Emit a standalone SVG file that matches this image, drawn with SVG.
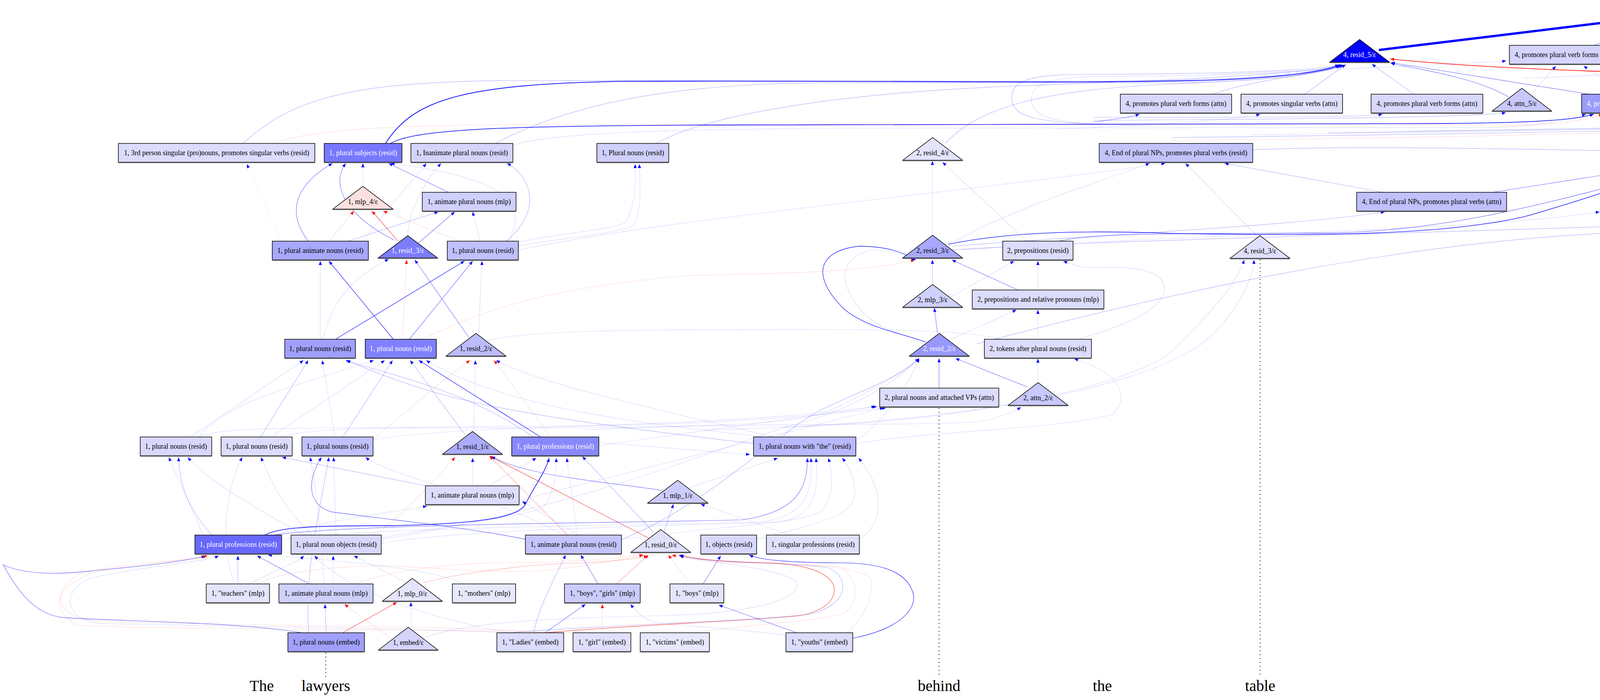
<svg xmlns="http://www.w3.org/2000/svg" width="5637" height="1791" viewBox="0 0 5637 1791">
<defs>
<marker id="ab" markerUnits="userSpaceOnUse" markerWidth="10" markerHeight="8" viewBox="0 0 10 8" refX="10" refY="4" orient="auto"><path d="M0,0 L10,4 L0,8 z" fill="#00f"/></marker>
<marker id="ar" markerUnits="userSpaceOnUse" markerWidth="10" markerHeight="8" viewBox="0 0 10 8" refX="10" refY="4" orient="auto"><path d="M0,0 L10,4 L0,8 z" fill="#f00"/></marker>
<marker id="abL" markerUnits="userSpaceOnUse" markerWidth="20" markerHeight="16" viewBox="0 0 20 16" refX="20" refY="8" orient="auto"><path d="M0,0 L20,8 L0,16 z" fill="#00f"/></marker>
</defs>
<style>
text{font-family:"Liberation Serif","Times New Roman",serif;font-size:18px;text-anchor:middle;dominant-baseline:central;fill:#000}
text.w{fill:#fff}
text.word{font-size:40px;dominant-baseline:auto}
.n rect,.n polygon,.n ellipse{stroke:#000;stroke-width:1.5}
.sh{stroke:#555;stroke-width:2.5}
.e path{fill:none;stroke-width:1.2}
.b1{stroke:#00f;stroke-opacity:.15;marker-end:url(#ab)}
.b2{stroke:#00f;stroke-opacity:.3;marker-end:url(#ab)}
.b3{stroke:#00f;stroke-opacity:.55;marker-end:url(#ab)}
.b4{stroke:#00f;stroke-opacity:.85;marker-end:url(#ab)}
.r1{stroke:#f00;stroke-opacity:.15;marker-end:url(#ar)}
.r2{stroke:#f00;stroke-opacity:.35;marker-end:url(#ar)}
.r3{stroke:#f00;stroke-opacity:.7;marker-end:url(#ar)}
.nm{marker-end:none}
.dot{stroke:#000;stroke-width:2;stroke-dasharray:2 8;fill:none}
</style>
<rect x="0" y="0" width="5637" height="1791" fill="#fff"/>

<g id="edges" class="e">
<!-- top -->
<path d="M3530,128 L4270,38" style="stroke:#00f;stroke-width:6;marker-end:url(#abL)"/>
<path d="M4530,116 L4332,42" class="b4" style="stroke-width:2.5"/>
<path d="M4820,116 L4337,36" class="b4" style="stroke-width:2"/>
<path d="M4080,116 L4276,42" class="b3"/>
<path d="M4887,248 C4820,205 4700,195 4400,190 C4100,185 3800,175 3559,151" class="r3" style="stroke-opacity:1;stroke-width:1.6"/>
<path d="M987,367 C1060,250 1200,215 1600,208 C2200,205 2800,215 3100,205 C3300,198 3400,180 3432,165" class="b4" style="stroke-width:2.2"/>
<path d="M1000,367 C1060,330 1300,322 1800,320 L3700,316 C3950,314 4040,305 4080,292" class="b4" style="stroke-width:1.8"/>
<path d="M4068,241 L3561,160" class="b3"/>
<path d="M3862,248 C3780,200 3650,180 3560,162" class="b3"/>
<path d="M3620,241 L3512,164" class="b2"/>
<path d="M3340,241 L3445,165" class="b2"/>
<path d="M3104,241 C3200,205 3380,190 3432,167" class="b2"/>
<path d="M622,367 C750,250 900,210 1300,206 L2800,208 C3200,205 3400,190 3430,166" class="b2"/>
<path d="M698,367 C800,330 1000,320 1400,318 L3900,320 C4000,318 4070,305 4103,292" class="r1"/>
<path d="M1268,367 C1450,270 1700,215 2100,212 L3000,212 C3250,208 3390,190 3436,166" class="b2"/>
<path d="M1313,372 C1400,340 1700,330 2200,328 L3800,326 C3950,324 4020,305 4060,292" class="b1"/>
<path d="M1679,367 C1800,300 2100,240 2600,220 C3000,205 3350,190 3438,166" class="b2"/>
<path d="M2420,367 C2500,280 2650,230 3000,215 C3250,205 3390,188 3440,166" class="b2"/>
<path d="M2900,318 C2650,318 2590,300 2590,250 C2590,200 2650,190 2800,190 C3100,190 3380,180 3428,166" class="b2"/>
<path d="M2950,322 C2700,322 2640,300 2640,255 C2640,210 2700,195 2850,195 C3100,195 3380,185 3430,168" class="b1"/>
<path d="M3207,383 C3500,370 4000,385 4413,390" class="b2 nm"/>
<path d="M2427,625 C2600,590 2800,590 3000,597 C3400,605 3700,600 3900,555 C4100,500 4300,420 4415,404" class="b4" style="stroke-width:1.6"/>
<path d="M2710,617 C2800,596 3000,598 3400,596 C3800,590 4100,470 4418,408" class="b3" style="stroke-width:1.3"/>
<path d="M3821,492 L4413,400" class="b3"/>
<path d="M3541,492 L3135,418" class="b2"/>
<path d="M3218,603 L3035,418" class="b1"/>
<path d="M2440,620 C2600,530 2800,470 2943,418" class="b1"/>
<path d="M1327,640 C1700,560 2400,500 2983,418" class="b1"/>
<path d="M4539,382 C4650,340 4800,300 4874,288" class="r2"/>
<path d="M3000,360 C3800,350 4500,340 4870,290" class="r1"/>
<path d="M4569,384 L5492,304 L5630,183 C5560,210 5470,215 5300,200 C5150,190 5060,175 5025,168" class="b2"/>
<path d="M3000,352 C4000,340 5000,320 5150,308 C5210,290 5215,240 5170,215 C5100,190 4800,180 4686,168" class="b2"/>
<path d="M3200,345 C4200,330 5050,318 5200,305 C5270,280 5270,230 5200,210 C5000,185 4800,175 4680,168" class="b1"/>
<path d="M3400,340 C4400,325 5200,312 5340,300 C5390,270 5380,230 5300,210 C5150,185 5060,175 5030,168" class="b2"/>
<path d="M3600,335 C4500,322 5280,305 5420,295 C5480,270 5460,220 5380,205 C5200,185 5060,172 5030,168" class="b1"/>
<path d="M4273,241 L4512,166" class="b1"/>
<path d="M4917,226 L4917,168" class="b1"/>
<path d="M4890,248 C4800,220 4700,190 4670,168" class="b1"/>
<path d="M3920,241 L3983,169" class="b1"/>
<path d="M4166,241 L4054,169" class="b1"/>
<path d="M3100,190 C3500,175 3800,160 3856,156" class="b1"/>
<path d="M3900,200 C4200,190 4400,170 4443,160" class="b1"/>
<path d="M2800,300 C3200,300 3500,300 3539,292" class="b2"/>
<path d="M2800,308 C3300,305 3800,300 3855,288" class="b2"/>
<path d="M2800,312 C2860,305 2900,298 2917,292" class="b3"/>
<path d="M2700,330 C3000,320 3200,300 3226,292" class="b1"/>
<path d="M2430,640 C2700,620 3500,600 4100,580 C4300,570 4420,560 4440,500 C4450,460 4447,430 4447,415" class="b2"/>
<path d="M2500,880 C2800,800 3500,620 4150,595 C4350,590 4470,560 4480,500 L4493,415" class="b2"/>
<path d="M2440,630 C2800,600 3300,580 3545,542" class="b2"/>
<path d="M2460,640 C3000,600 3800,590 4095,542" class="b1"/>
<!-- rows 367-665 -->
<path d="M789,617 C730,540 760,470 851,418" class="b3"/>
<path d="M1010,615 C900,560 840,480 885,418" class="b3"/>
<path d="M929,477 L929,418" class="b1"/>
<path d="M1148,492 L995,418" class="b3"/>
<path d="M1301,617 C1350,530 1310,455 1000,418" class="b1"/>
<path d="M1043,603 C1050,520 1100,450 1129,418" class="b1"/>
<path d="M930,617 C1000,520 1060,460 1091,418" class="b1"/>
<path d="M720,617 L632,420" class="b1" style="stroke-opacity:.06"/>
<path d="M1296,617 C1390,540 1360,450 1298,418" class="b2"/>
<path d="M842,617 L906,540" class="r1"/>
<path d="M1019,617 L952,540" class="r3"/>
<path d="M1177,617 L981,540" class="r1"/>
<path d="M890,617 L1122,542" class="b2"/>
<path d="M1071,622 L1164,542" class="b3"/>
<path d="M1229,617 L1210,542" class="b1"/>
<path d="M1320,622 C1400,600 1560,590 1600,570 C1630,520 1626,470 1626,420" class="b1"/>
<path d="M1325,630 C1420,610 1580,600 1625,575 C1645,520 1637,470 1637,420" class="b1"/>
<!-- rows 868 -> 617 -->
<path d="M820,868 L820,668" class="b1"/>
<path d="M828,868 C840,800 880,720 995,663" class="b1"/>
<path d="M859,868 L1189,668" class="b4" style="stroke-width:1.3"/>
<path d="M1007,868 L842,668" class="b4"/>
<path d="M1048,868 L1210,668" class="b3"/>
<path d="M1030,868 L1041,665" class="r1"/>
<path d="M1200,863 L1062,665" class="b3"/>
<path d="M1225,853 L1234,668" class="b1"/>
<path d="M1081,868 C1300,760 1500,730 1757,705 C1950,700 2200,700 2342,665" class="r1"/>
<path d="M1244,873 C1340,845 1600,843 2100,843 C2350,843 2500,850 2562,868" class="b1 nm"/>
<!-- rows 1118 -> 868 -->
<path d="M488,1118 L777,922" class="b1"/>
<path d="M507,1118 C600,1020 720,1000 957,922" class="b1"/>
<path d="M667,1118 L789,922" class="b2"/>
<path d="M694,1118 L985,922" class="b1"/>
<path d="M858,1118 L825,922" class="b1"/>
<path d="M878,1118 L1005,922" class="b2"/>
<path d="M955,1125 C1100,1000 1150,960 1203,922" class="r1"/>
<path d="M1191,1113 L1050,922" class="b2"/>
<path d="M1213,1104 L1217,922" class="b1"/>
<path d="M1384,1118 L1072,922" class="b4" style="stroke-width:1.3"/>
<path d="M1363,1117 C1200,1000 1000,960 885,922" class="b2"/>
<path d="M1929,1135 C1600,1095 1300,1060 1100,1000 C1000,970 930,940 887,922" class="b2"/>
<path d="M1960,1118 C1700,1090 1300,1050 1091,922" class="b1"/>
<path d="M1410,1118 L1265,922" class="r1"/>
<path d="M1980,1118 C1700,1050 1400,990 1270,922" class="b1"/>
<!-- -> 1118 -->
<path d="M542,1369 C480,1300 460,1240 457,1170" class="b2"/>
<path d="M520,1369 L432,1170" class="b1"/>
<path d="M781,1369 C650,1300 520,1220 481,1170" class="b1"/>
<path d="M600,1494 C560,1380 580,1250 620,1170" class="b1"/>
<path d="M800,1369 C720,1300 680,1200 668,1170" class="b1"/>
<path d="M1091,1243 L722,1170" class="b2"/>
<path d="M1346,1380 C1200,1350 1000,1330 850,1310 C780,1290 790,1220 823,1170" class="b3" style="stroke-width:1.3"/>
<path d="M830,1494 C820,1350 810,1250 794,1170" class="b1"/>
<path d="M790,1619 C780,1450 820,1300 842,1170" class="b2"/>
<path d="M860,1369 L854,1170" class="b1"/>
<path d="M1440,1369 C1300,1280 1000,1220 936,1170" class="b1"/>
<path d="M1661,1377 L1254,1167" class="r3"/>
<path d="M1453,1369 L1253,1167" class="r2"/>
<path d="M1210,1243 L1210,1172" class="b1"/>
<path d="M1696,1255 C1600,1240 1450,1225 1375,1207 C1320,1195 1280,1180 1258,1168" class="b3"/>
<path d="M960,1369 C1050,1300 1120,1220 1165,1170" class="r1"/>
<path d="M1478,1369 L1451,1172" class="b1"/>
<path d="M1674,1363 L1491,1168" class="b2"/>
<path d="M1250,1243 L1373,1172" class="b1"/>
<path d="M678,1369 C720,1345 850,1345 1000,1345 C1250,1340 1330,1320 1345,1290 C1370,1240 1395,1210 1406,1172" class="b4" style="stroke-width:1.8"/>
<path d="M960,1380 C1100,1350 1300,1330 1390,1300 C1420,1260 1425,1210 1424,1172" class="b1"/>
<path d="M700,1369 C900,1340 1600,1338 1900,1330 C2040,1310 2067,1250 2067,1172" class="b3"/>
<path d="M720,1380 C1000,1345 1700,1345 1950,1335 C2070,1320 2080,1250 2076,1172" class="b1"/>
<path d="M976,1390 C1200,1350 1800,1345 2000,1335 C2090,1320 2095,1250 2089,1172" class="b1"/>
<path d="M1591,1380 C1800,1350 2050,1340 2100,1310 C2140,1270 2130,1210 2121,1172" class="b1"/>
<path d="M1937,1380 C2050,1350 2150,1330 2180,1290 C2200,1250 2180,1200 2156,1172" class="b1"/>
<path d="M2200,1380 C2260,1340 2270,1260 2198,1172" class="b1"/>
<path d="M1768,1247 L1991,1172" class="b1"/>
<path d="M1533,1132 L1920,1163" class="b1"/>
<path d="M1533,1140 L2245,1040" class="b1"/>
<path d="M1329,1280 L2262,1043" class="b1"/>
<path d="M510,1118 C560,1090 800,1095 1200,1095 C1700,1095 2000,1090 2100,1060 C2200,1020 2300,960 2353,917" class="b1"/>
<path d="M720,1118 C780,1095 1000,1093 1400,1090 C1800,1085 2100,1060 2241,1040" class="b1"/>
<path d="M955,1125 C1100,1100 1400,1092 1700,1085 C2000,1075 2200,1050 2268,1044" class="b1"/>
<!-- -> 1369 -->
<path d="M609,1494 L609,1422" class="b2"/>
<path d="M792,1494 L658,1422" class="b3"/>
<path d="M1188,1494 C1100,1450 800,1430 686,1420" class="b1"/>
<path d="M773,1619 C600,1590 300,1590 160,1580 C80,1570 40,1500 8,1445 C60,1470 150,1470 220,1462 C350,1450 450,1440 526,1423" class="b3" style="stroke-width:1.3"/>
<path d="M1395,1619 C1200,1600 500,1600 250,1590 C150,1580 120,1520 200,1470 C300,1440 450,1440 531,1422" class="r1"/>
<path d="M1490,1619 C1200,1610 400,1610 200,1600 C120,1560 140,1490 260,1460 C380,1440 480,1435 531,1422" class="r1"/>
<path d="M1300,1619 C1000,1605 400,1600 250,1595 C170,1580 150,1520 230,1480 C350,1450 520,1440 560,1422" class="b1"/>
<path d="M658,1494 C720,1460 900,1445 1000,1448 C1200,1460 1300,1465 1400,1460 C1550,1440 1600,1430 1647,1420" class="r1"/>
<path d="M909,1494 C1000,1460 1150,1440 1300,1440 C1450,1440 1550,1430 1647,1420" class="r1"/>
<path d="M1084,1491 C1200,1460 1400,1440 1500,1440 C1580,1435 1630,1430 1658,1422" class="r2"/>
<path d="M1578,1494 L1660,1420" class="r2"/>
<path d="M1767,1494 L1711,1420" class="r1"/>
<path d="M1800,1494 L1845,1422" class="b3"/>
<path d="M2040,1619 L1840,1548" class="b3"/>
<path d="M2183,1633 C2300,1610 2350,1560 2337,1516 C2320,1460 2250,1440 2150,1440 C2050,1440 1950,1435 1918,1420" class="b4" style="stroke-width:1.2"/>
<path d="M1395,1619 C1600,1600 1900,1590 2050,1575 C2120,1560 2140,1530 2135,1500 C2120,1460 2050,1441 1950,1440 C1850,1438 1780,1430 1740,1420" class="r3"/>
<path d="M1783,1618 C1880,1600 2100,1590 2160,1570 C2200,1540 2200,1480 2150,1450 C2050,1438 1800,1440 1720,1420" class="r1"/>
<path d="M2170,1619 C2200,1590 2240,1530 2230,1480 C2200,1450 2050,1440 1900,1440 C1800,1440 1760,1430 1738,1420" class="r1"/>
<path d="M1300,1619 C1600,1595 1950,1590 2080,1570 C2170,1545 2180,1480 2120,1452 C2000,1438 1800,1440 1740,1422" class="b2"/>
<path d="M1531,1494 L1487,1420" class="b3"/>
<path d="M1366,1619 C1380,1550 1420,1480 1448,1420" class="b2"/>
<path d="M1395,1619 L1499,1546" class="b3"/>
<path d="M1542,1619 L1542,1546" class="r1"/>
<path d="M835,1619 L832,1546" class="b2"/>
<path d="M877,1619 L1016,1541" class="r3"/>
<path d="M1052,1605 L1052,1541" class="b1"/>
<path d="M1010,1640 L882,1546" class="r1"/>
<path d="M2012,1625 C1900,1610 1720,1600 1670,1590 C1640,1580 1625,1560 1614,1546" class="b1"/>
<path d="M1084,1633 C1200,1585 1500,1580 1700,1575 C1900,1570 2050,1540 2040,1490 C2000,1450 1800,1440 1738,1420" class="b1"/>
<path d="M1700,1360 L1724,1290" class="b2"/>
<path d="M2017,1367 L1794,1290" class="b1"/>
<path d="M1480,1369 C1420,1330 1360,1300 1337,1282" class="b1"/>
<path d="M700,1369 C850,1330 1000,1310 1093,1295" class="b1"/>
<path d="M853,1494 L853,1422" class="b1"/>
<path d="M1040,1490 L906,1422" class="b1"/>
<path d="M640,1494 C700,1460 760,1440 778,1422" class="b1"/>
<path d="M1300,1619 C1100,1580 900,1520 805,1422" class="b1"/>
<!-- layer 2 -->
<path d="M2404,993 L2404,917" class="b3"/>
<path d="M2630,990 L2446,917" class="b3"/>
<path d="M2657,979 L2657,918" class="b1"/>
<path d="M2400,853 L2392,788" class="b3"/>
<path d="M2430,870 L2602,793" class="b1"/>
<path d="M2606,742 L2437,665" class="b3"/>
<path d="M2387,728 L2387,665" class="b2"/>
<path d="M2425,765 L2596,668" class="b1"/>
<path d="M2370,875 C2300,850 2220,840 2160,790 C2070,700 2100,640 2200,630 C2280,630 2320,650 2342,665" class="b4" style="stroke-width:1.3"/>
<path d="M2380,880 C2330,860 2260,850 2210,800 C2140,720 2150,660 2230,640 C2300,640 2330,660 2345,665" class="b1"/>
<path d="M2657,742 L2657,668" class="b1"/>
<path d="M2657,867 L2657,793" class="b1"/>
<path d="M2760,867 C2900,830 2990,780 2980,730 C2970,690 2900,680 2800,685 C2760,685 2740,675 2722,668" class="b1"/>
<path d="M2387,602 L2387,412" class="b1"/>
<path d="M2628,616 L2413,415" class="b1"/>
<path d="M1591,1380 C1800,1300 2000,1100 2100,1050 C2200,1000 2300,970 2353,917" class="b2"/>
<path d="M976,1380 C1500,1300 1900,1120 2050,1082 C2200,1040 2300,970 2353,917" class="b1"/>
<path d="M2192,1127 C2250,1090 2320,1000 2353,917" class="b1"/>
<path d="M1500,1100 C1900,1080 2300,1090 2500,1080 C2560,1070 2600,1050 2614,1042" class="b1"/>
<path d="M2192,1135 C2400,1100 2700,1100 2850,1060 C2900,1000 2850,950 2750,918" class="b1"/>
<path d="M2000,1093 C2500,1080 2900,980 3000,900 C3100,800 3170,720 3185,665" class="b1"/>
<path d="M1800,1100 C2400,1090 2950,1000 3100,860 C3180,780 3210,700 3210,665" class="b1"/>
</g>

<g id="n_y" class="n"><ellipse cx="4301" cy="29" rx="28" ry="19" fill="#fff"/><text x="4301" y="29">y</text></g>

<g id="n_b38" class="n"><rect x="3864" y="116" width="293" height="48" fill="#d4d4fc"/><line class="sh" x1="3864" y1="165" x2="4157" y2="165"/><text x="4010.5" y="140">4, promotes plural verb forms (resid)</text></g>
<g id="n_b39" class="n"><rect x="4445" y="116" width="293" height="48" fill="#a8a8fc"/><line class="sh" x1="4445" y1="165" x2="4738" y2="165"/><text x="4591.5" y="140">4, promotes plural verb forms (resid)</text></g>
<g id="n_b40" class="n"><rect x="4762" y="116" width="310" height="48" fill="#c4c4fc"/><line class="sh" x1="4762" y1="165" x2="5072" y2="165"/><text x="4917" y="140">4, promotes singular verb forms (resid)</text></g>
<g id="n_b41" class="n"><rect x="2868" y="241" width="285" height="48" fill="#d8d8fc"/><line class="sh" x1="2868" y1="290" x2="3153" y2="290"/><text x="3010.5" y="265">4, promotes plural verb forms (attn)</text></g>
<g id="n_b42" class="n"><rect x="3177" y="241" width="260" height="48" fill="#e0e0fc"/><line class="sh" x1="3177" y1="290" x2="3437" y2="290"/><text x="3307" y="265">4, promotes singular verbs (attn)</text></g>
<g id="n_b43" class="n"><rect x="3510" y="241" width="286" height="48" fill="#d8d8fc"/><line class="sh" x1="3510" y1="290" x2="3796" y2="290"/><text x="3653" y="265">4, promotes plural verb forms (attn)</text></g>
<g id="n_b44" class="n"><rect x="4049" y="241" width="304" height="48" fill="#9c9cfc"/><line class="sh" x1="4049" y1="290" x2="4353" y2="290"/><text class="w" x="4201" y="265">4, predicts unmarked verb forms (attn)</text></g>

<g id="n_b1" class="n"><rect x="303" y="367" width="503" height="48" fill="#dcdcfc"/><line class="sh" x1="303" y1="416" x2="806" y2="416"/><text x="554.5" y="391">1, 3rd person singular (pro)nouns, promotes singular verbs (resid)</text></g>
<g id="n_b2" class="n"><rect x="830" y="367" width="199" height="48" fill="#7878ff"/><line class="sh" x1="830" y1="416" x2="1029" y2="416"/><text class="w" x="929.5" y="391">1, plural subjects (resid)</text></g>
<g id="n_b3" class="n"><rect x="1052" y="367" width="261" height="48" fill="#d4d4fc"/><line class="sh" x1="1052" y1="416" x2="1313" y2="416"/><text x="1182.5" y="391">1, Inanimate plural nouns (resid)</text></g>
<g id="n_b4" class="n"><rect x="1528" y="367" width="184" height="48" fill="#d0d0fc"/><line class="sh" x1="1528" y1="416" x2="1712" y2="416"/><text x="1620" y="391">1, Plural nouns (resid)</text></g>
<g id="n_b5" class="n"><rect x="2814" y="367" width="393" height="48" fill="#c4c4fc"/><line class="sh" x1="2814" y1="416" x2="3207" y2="416"/><text x="3010.5" y="391">4, End of plural NPs, promotes plural verbs (resid)</text></g>
<g id="n_b6" class="n"><rect x="1081" y="492" width="240" height="48" fill="#d0d0fc"/><line class="sh" x1="1081" y1="541" x2="1321" y2="541"/><text x="1201" y="516">1, animate plural nouns (mlp)</text></g>
<g id="n_b7" class="n"><rect x="3473" y="492" width="384" height="48" fill="#c0c0fc"/><line class="sh" x1="3473" y1="541" x2="3857" y2="541"/><text x="3665" y="516">4, End of plural NPs, promotes plural verbs (attn)</text></g>
<g id="n_b8" class="n"><rect x="4104" y="492" width="301" height="48" fill="#e4e4fc"/><line class="sh" x1="4104" y1="541" x2="4405" y2="541"/><text x="4254.5" y="516">4, promotes singular verb forms (attn)</text></g>
<g id="n_b9" class="n"><rect x="697" y="617" width="246" height="48" fill="#a8a8fc"/><line class="sh" x1="697" y1="666" x2="943" y2="666"/><text x="820" y="641">1, plural animate nouns (resid)</text></g>
<g id="n_b10" class="n"><rect x="1145" y="617" width="182" height="48" fill="#c0c0fc"/><line class="sh" x1="1145" y1="666" x2="1327" y2="666"/><text x="1236" y="641">1, plural nouns (resid)</text></g>
<g id="n_b11" class="n"><rect x="2567" y="617" width="180" height="48" fill="#dcdcfc"/><line class="sh" x1="2567" y1="666" x2="2747" y2="666"/><text x="2657" y="641">2, prepositions (resid)</text></g>
<g id="n_b12" class="n"><rect x="2489" y="742" width="337" height="48" fill="#dcdcfc"/><line class="sh" x1="2489" y1="791" x2="2826" y2="791"/><text x="2657.5" y="766">2, prepositions and relative pronouns (mlp)</text></g>
<g id="n_b13" class="n"><rect x="729" y="868" width="181" height="48" fill="#a0a0fc"/><line class="sh" x1="729" y1="917" x2="910" y2="917"/><text x="819.5" y="892">1, plural nouns (resid)</text></g>
<g id="n_b14" class="n"><rect x="935" y="868" width="182" height="48" fill="#8080fc"/><line class="sh" x1="935" y1="917" x2="1117" y2="917"/><text class="w" x="1026" y="892">1, plural nouns (resid)</text></g>
<g id="n_b15" class="n"><rect x="2520" y="868" width="274" height="48" fill="#dcdcfc"/><line class="sh" x1="2520" y1="917" x2="2794" y2="917"/><text x="2657" y="892">2, tokens after plural nouns (resid)</text></g>
<g id="n_b16" class="n"><rect x="2252" y="993" width="305" height="48" fill="#dcdcfc"/><line class="sh" x1="2252" y1="1042" x2="2557" y2="1042"/><text x="2404.5" y="1017">2, plural nouns and attached VPs (attn)</text></g>
<g id="n_b17" class="n"><rect x="359" y="1118" width="183" height="48" fill="#d8d8fc"/><line class="sh" x1="359" y1="1167" x2="542" y2="1167"/><text x="450.5" y="1142">1, plural nouns (resid)</text></g>
<g id="n_b18" class="n"><rect x="566" y="1118" width="182" height="48" fill="#dcdcfc"/><line class="sh" x1="566" y1="1167" x2="748" y2="1167"/><text x="657" y="1142">1, plural nouns (resid)</text></g>
<g id="n_b19" class="n"><rect x="773" y="1118" width="182" height="48" fill="#c0c0fc"/><line class="sh" x1="773" y1="1167" x2="955" y2="1167"/><text x="864" y="1142">1, plural nouns (resid)</text></g>
<g id="n_b20" class="n"><rect x="1310" y="1118" width="223" height="48" fill="#8888fc"/><line class="sh" x1="1310" y1="1167" x2="1533" y2="1167"/><text class="w" x="1421.5" y="1142">1, plural professions (resid)</text></g>
<g id="n_b21" class="n"><rect x="1929" y="1118" width="262" height="48" fill="#b8b8fc"/><line class="sh" x1="1929" y1="1167" x2="2191" y2="1167"/><text x="2060" y="1142">1, plural nouns with "the" (resid)</text></g>
<g id="n_b22" class="n"><rect x="1089" y="1243" width="240" height="48" fill="#dcdcfc"/><line class="sh" x1="1089" y1="1292" x2="1329" y2="1292"/><text x="1209" y="1267">1, animate plural nouns (mlp)</text></g>
<g id="n_b23" class="n"><rect x="499" y="1369" width="222" height="48" fill="#6868fc"/><line class="sh" x1="499" y1="1418" x2="721" y2="1418"/><text class="w" x="610" y="1393">1, plural professions (resid)</text></g>
<g id="n_b24" class="n"><rect x="745" y="1369" width="231" height="48" fill="#d8d8fc"/><line class="sh" x1="745" y1="1418" x2="976" y2="1418"/><text x="860.5" y="1393">1, plural noun objects (resid)</text></g>
<g id="n_b25" class="n"><rect x="1345" y="1369" width="246" height="48" fill="#c4c4fc"/><line class="sh" x1="1345" y1="1418" x2="1591" y2="1418"/><text x="1468" y="1393">1, animate plural nouns (resid)</text></g>
<g id="n_b26" class="n"><rect x="1794" y="1369" width="143" height="48" fill="#d8d8fc"/><line class="sh" x1="1794" y1="1418" x2="1937" y2="1418"/><text x="1865.5" y="1393">1, objects (resid)</text></g>
<g id="n_b27" class="n"><rect x="1962" y="1369" width="238" height="48" fill="#e0e0fc"/><line class="sh" x1="1962" y1="1418" x2="2200" y2="1418"/><text x="2081" y="1393">1, singular professions (resid)</text></g>
<g id="n_b28" class="n"><rect x="528" y="1494" width="162" height="48" fill="#e4e4fc"/><line class="sh" x1="528" y1="1543" x2="690" y2="1543"/><text x="609" y="1518">1, "teachers" (mlp)</text></g>
<g id="n_b29" class="n"><rect x="714" y="1494" width="241" height="48" fill="#d0d0fc"/><line class="sh" x1="714" y1="1543" x2="955" y2="1543"/><text x="834.5" y="1518">1, animate plural nouns (mlp)</text></g>
<g id="n_b30" class="n"><rect x="1158" y="1494" width="162" height="48" fill="#e8e8fc"/><line class="sh" x1="1158" y1="1543" x2="1320" y2="1543"/><text x="1239" y="1518">1, "mothers" (mlp)</text></g>
<g id="n_b31" class="n"><rect x="1445" y="1494" width="194" height="48" fill="#ccccfc"/><line class="sh" x1="1445" y1="1543" x2="1639" y2="1543"/><text x="1542" y="1518">1, "boys", "girls" (mlp)</text></g>
<g id="n_b32" class="n"><rect x="1715" y="1494" width="138" height="48" fill="#e4e4fc"/><line class="sh" x1="1715" y1="1543" x2="1853" y2="1543"/><text x="1784" y="1518">1, "boys" (mlp)</text></g>
<g id="n_b33" class="n"><rect x="737" y="1619" width="196" height="48" fill="#a0a0fc"/><line class="sh" x1="737" y1="1668" x2="933" y2="1668"/><text x="835" y="1643">1, plural nouns (embed)</text></g>
<g id="n_b34" class="n"><rect x="1272" y="1619" width="171" height="48" fill="#dcdcfc"/><line class="sh" x1="1272" y1="1668" x2="1443" y2="1668"/><text x="1357.5" y="1643">1, "Ladies" (embed)</text></g>
<g id="n_b35" class="n"><rect x="1467" y="1619" width="148" height="48" fill="#e0e0fc"/><line class="sh" x1="1467" y1="1668" x2="1615" y2="1668"/><text x="1541" y="1643">1, "girl" (embed)</text></g>
<g id="n_b36" class="n"><rect x="1639" y="1619" width="177" height="48" fill="#e8e8fc"/><line class="sh" x1="1639" y1="1668" x2="1816" y2="1668"/><text x="1727.5" y="1643">1, "victims" (embed)</text></g>
<g id="n_b37" class="n"><rect x="2012" y="1619" width="171" height="48" fill="#dcdcfc"/><line class="sh" x1="2012" y1="1668" x2="2183" y2="1668"/><text x="2097.5" y="1643">1, "youths" (embed)</text></g>

<g id="n_t1" class="n"><polygon points="852,535 929,477 1006,535" fill="#fce0e0"/><line class="sh" x1="852" y1="536" x2="1006" y2="536"/><text x="929" y="516">1, mlp_4/ε</text></g>
<g id="n_t2" class="n"><polygon points="968,660 1044,603 1120,660" fill="#7c7cfc"/><line class="sh" x1="968" y1="661" x2="1120" y2="661"/><text class="w" x="1044" y="641">1, resid_3/ε</text></g>
<g id="n_t3" class="n"><polygon points="1142,911 1218.5,853 1295,911" fill="#bcbcfc"/><line class="sh" x1="1142" y1="912" x2="1295" y2="912"/><text x="1218.5" y="892">1, resid_2/ε</text></g>
<g id="n_t4" class="n"><polygon points="1133,1162 1209.5,1104 1286,1162" fill="#acacfc"/><line class="sh" x1="1133" y1="1163" x2="1286" y2="1163"/><text x="1209.5" y="1143">1, resid_1/ε</text></g>
<g id="n_t5" class="n"><polygon points="1658,1287 1735,1229 1812,1287" fill="#ccccfc"/><line class="sh" x1="1658" y1="1288" x2="1812" y2="1288"/><text x="1735" y="1268">1, mlp_1/ε</text></g>
<g id="n_t6" class="n"><polygon points="1615,1413 1691.5,1355 1768,1413" fill="#e0e0fc"/><line class="sh" x1="1615" y1="1414" x2="1768" y2="1414"/><text x="1691.5" y="1394">1, resid_0/ε</text></g>
<g id="n_t7" class="n"><polygon points="979,1538 1055.5,1480 1132,1538" fill="#e4e4fc"/><line class="sh" x1="979" y1="1539" x2="1132" y2="1539"/><text x="1055.5" y="1519">1, mlp_0/ε</text></g>
<g id="n_t8" class="n"><polygon points="969,1663 1045,1605 1121,1663" fill="#d4d4fc"/><line class="sh" x1="969" y1="1664" x2="1121" y2="1664"/><text x="1045" y="1644">1, embed/ε</text></g>
<g id="n_t9" class="n"><polygon points="2311,410 2387.5,352 2464,410" fill="#e4e4fc"/><line class="sh" x1="2311" y1="411" x2="2464" y2="411"/><text x="2387.5" y="391">2, resid_4/ε</text></g>
<g id="n_t10" class="n"><polygon points="2311,660 2387.5,602 2464,660" fill="#a8a8fc"/><line class="sh" x1="2311" y1="661" x2="2464" y2="661"/><text x="2387.5" y="641">2, resid_3/ε</text></g>
<g id="n_t11" class="n"><polygon points="2311,786 2387.5,728 2464,786" fill="#d0d0fc"/><line class="sh" x1="2311" y1="787" x2="2464" y2="787"/><text x="2387.5" y="767">2, mlp_3/ε</text></g>
<g id="n_t12" class="n"><polygon points="2328,911 2404.5,853 2481,911" fill="#9898fc"/><line class="sh" x1="2328" y1="912" x2="2481" y2="912"/><text class="w" x="2404.5" y="892">2, resid_2/ε</text></g>
<g id="n_t13" class="n"><polygon points="2581,1037 2657.5,979 2734,1037" fill="#c8c8fc"/><line class="sh" x1="2581" y1="1038" x2="2734" y2="1038"/><text x="2657.5" y="1018">2, attn_2/ε</text></g>
<g id="n_t14" class="n"><polygon points="3149,661 3225.5,603 3302,661" fill="#e0e0fc"/><line class="sh" x1="3149" y1="662" x2="3302" y2="662"/><text x="3225.5" y="642">4, resid_3/ε</text></g>
<g id="n_t15" class="n"><polygon points="3404,159 3480.5,101 3557,159" fill="#0000ff"/><line class="sh" x1="3404" y1="160" x2="3557" y2="160"/><text class="w" x="3480.5" y="140">4, resid_5/ε</text></g>
<g id="n_t16" class="n"><polygon points="3820,284 3896,226 3972,284" fill="#c8c8fc"/><line class="sh" x1="3820" y1="285" x2="3972" y2="285"/><text x="3896" y="265">4, attn_5/ε</text></g>
<g id="n_t17" class="n"><polygon points="4841,284 4917.5,226 4994,284" fill="#fcc8c8"/><line class="sh" x1="4841" y1="285" x2="4994" y2="285"/><text x="4917.5" y="265">4, mlp_5/ε</text></g>
<g id="n_t18" class="n"><polygon points="4413,410 4491,352 4569,410" fill="#9090fc"/><line class="sh" x1="4413" y1="411" x2="4569" y2="411"/><text class="w" x="4491" y="391">4, resid_4/ε</text></g>

<g id="tokens">
<path class="dot" d="M834,1670 L834,1732"/>
<path class="dot" d="M2404,1044 L2404,1732"/>
<path class="dot" d="M3226,664 L3226,1732"/>
<text class="word" x="670" y="1768">The</text>
<text class="word" x="834" y="1768">lawyers</text>
<text class="word" x="2404" y="1768">behind</text>
<text class="word" x="2822" y="1768">the</text>
<text class="word" x="3226" y="1768">table</text>
</g>
</svg>
